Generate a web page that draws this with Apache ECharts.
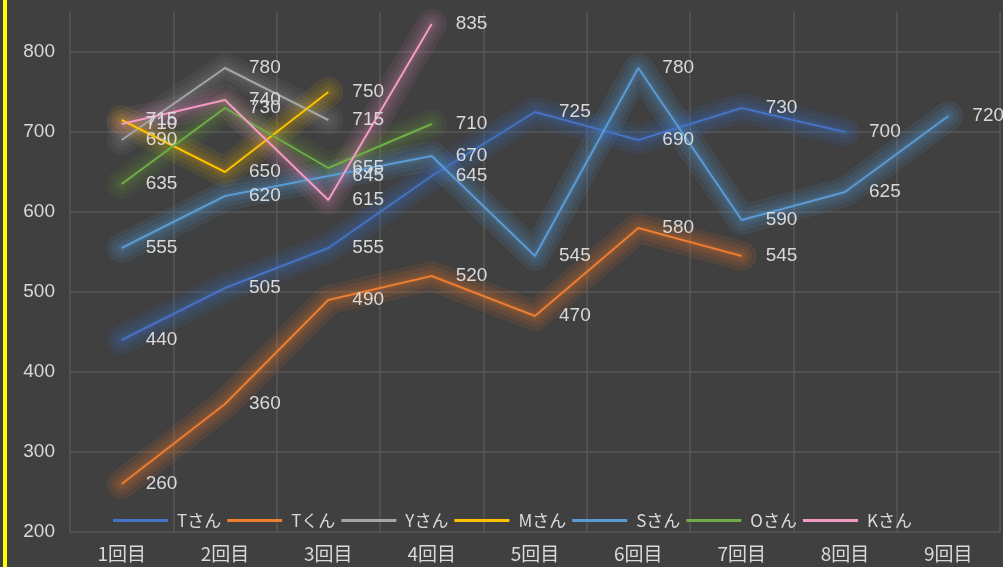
<!DOCTYPE html>
<html>
<head>
<meta charset="utf-8">
<script src="https://cdn.jsdelivr.net/npm/echarts@6/dist/echarts.min.js"></script>
<style>
html,body{margin:0;padding:0;background:#404040;}
#wrap{position:relative;width:1003px;height:567px;background:#404040;overflow:hidden;}
#bar{position:absolute;left:3px;top:0;width:4px;height:567px;background:#ffff00;z-index:2;}
#chart{position:absolute;left:0;top:0;width:1003px;height:567px;}
</style>
</head>
<body>
<div id="wrap"><div id="chart"></div><div id="bar"></div></div>
<script>
const categories = ['1回目','2回目','3回目','4回目','5回目','6回目','7回目','8回目','9回目'];
const seriesNames = ['Tさん','Tくん','Yさん','Mさん','Sさん','Oさん','Kさん'];
const tSan = [440, 505, 555, 645, 725, 690, 730, 700, null];
const tKun = [260, 360, 490, 520, 470, 580, 545, null, null];
const ySan = [690, 780, 715, null, null, null, null, null, null];
const mSan = [715, 650, 750, null, null, null, null, null, null];
const sSan = [555, 620, 645, 670, 545, 780, 590, 625, 720];
const oSan = [635, 730, 655, 710, null, null, null, null, null];
const kSan = [710, 740, 615, 835, null, null, null, null, null];
const yTicks = [200, 300, 400, 500, 600, 700, 800];

const values = [tSan, tKun, ySan, mSan, sSan, oSan, kSan];
const colors = ['#4472C4','#ED7D31','#A5A5A5','#FFC000','#5B9BD5','#70AD47','#F39BC4'];
const glowAlpha = [0.11, 0.1, 0.07, 0.08, 0.11, 0.085, 0.08];

function hexA(h, a) {
  const r = parseInt(h.slice(1,3),16), g = parseInt(h.slice(3,5),16), b = parseInt(h.slice(5,7),16);
  return 'rgba(' + r + ',' + g + ',' + b + ',' + a + ')';
}

const chart = echarts.init(document.getElementById('chart'), null, {renderer:'canvas'});
const txt = '#d9d9d9';
const font = 'Liberation Sans, Arial, sans-serif';

const glowWidths = [30, 21, 13, 7];
const glowSeries = [];
glowWidths.forEach((w, k) => {
  seriesNames.forEach((n, i) => {
    glowSeries.push({
      name: n + '_glow' + k, type: 'line', data: values[i], silent: true,
      symbol: 'none', z: 1,
      lineStyle: {color: hexA(colors[i], glowAlpha[i]), width: w, cap: 'round', join: 'round',
        shadowBlur: 10, shadowColor: hexA(colors[i], glowAlpha[i])},
      label: {show: false}
    });
  });
});
const mainSeries = seriesNames.map((n, i) => ({
  name: n, type: 'line', data: values[i], z: 3,
  symbol: 'circle', symbolSize: 0,
  itemStyle: {color: colors[i]},
  lineStyle: {color: colors[i], width: 2},
  label: {show: true, position: 'right', distance: 24, color: txt, fontSize: 19, fontFamily: font},
  connectNulls: false
}));

chart.setOption({
  backgroundColor: '#404040',
  animation: false,
  color: colors,
  grid: {left: 70, right: 3, top: 12, bottom: 35, containLabel: false},
  legend: {
    data: seriesNames,
    left: 108, top: 507,
    icon: 'rect',
    itemWidth: 55, itemHeight: 3, itemGap: 6,
    textStyle: {color: txt, fontSize: 17, fontFamily: 'Noto Sans CJK JP', padding: [0,0,0,4]}
  },
  xAxis: {
    type: 'category', data: categories, boundaryGap: true,
    axisLine: {show: false}, axisTick: {show: false},
    axisLabel: {color: txt, fontSize: 19, fontFamily: 'Noto Sans CJK JP', margin: 12},
    splitLine: {show: true, lineStyle: {color: '#575757', width: 1.5}}
  },
  yAxis: {
    type: 'value', min: 200, max: 850, interval: 100,
    axisLine: {show: false}, axisTick: {show: false},
    axisLabel: {color: txt, fontSize: 19, fontFamily: font, margin: 15,
      formatter: v => (yTicks.indexOf(v) >= 0 ? String(v) : '')},
    splitLine: {show: true, lineStyle: {color: ['#575757','#575757','#575757','#575757','#575757','#575757','#575757','rgba(0,0,0,0)'], width: 1.5}}
  },
  series: glowSeries.concat(mainSeries)
});
</script>
</body>
</html>
